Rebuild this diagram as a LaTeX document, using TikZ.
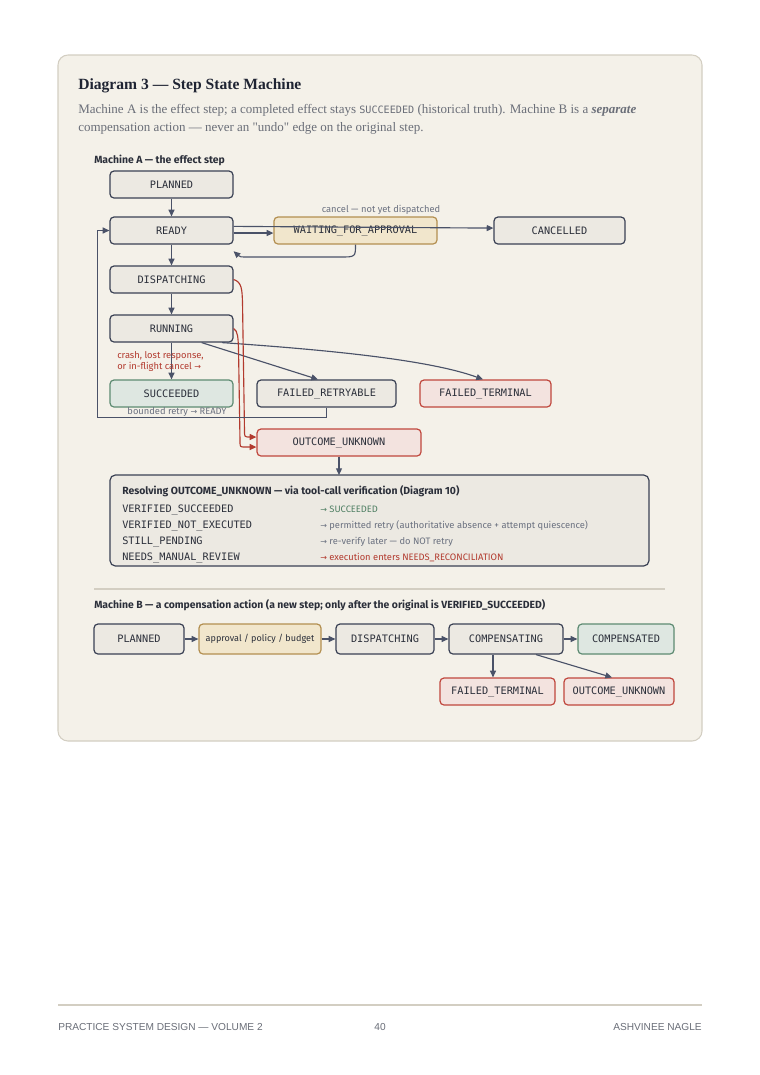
\documentclass[tikz,border=0pt]{standalone}
\usepackage{fontspec}
\setmainfont{Liberation Serif}
\newfontfamily\sff{Fira Sans}
\newfontfamily\mono{DejaVu Sans Mono}
\newfontfamily\djv{DejaVu Sans}
\newfontfamily\foot{Liberation Sans}
\usetikzlibrary{arrows.meta}
\definecolor{panel}{HTML}{F4F1E9}
\definecolor{panelb}{HTML}{D3CEC2}
\definecolor{nodef}{HTML}{ECE9E2}
\definecolor{nodeb}{HTML}{3A4154}
\definecolor{ink}{HTML}{2B2F3A}
\definecolor{edge}{HTML}{4A5268}
\definecolor{redl}{HTML}{B23A2E}
\definecolor{redb}{HTML}{C0473D}
\definecolor{redf}{HTML}{F3E3DF}
\definecolor{yelf}{HTML}{F1E6CC}
\definecolor{yelb}{HTML}{B38F50}
\definecolor{grnf}{HTML}{DEE7E1}
\definecolor{grnb}{HTML}{5D8B72}
\definecolor{grnt}{HTML}{4F7F63}
\definecolor{graytxt}{HTML}{6B7180}
\definecolor{subtxt}{HTML}{6A6E78}
\definecolor{titletxt}{HTML}{1F2433}
\newcommand{\ar}{{\djv\fontsize{6}{7}\selectfont →}}
\begin{document}
\begin{tikzpicture}[x=0.75pt,y=-0.75pt,
  st/.style={draw=nodeb, fill=nodef, rounded corners=3pt, line width=0.9pt,
    font=\mono\fontsize{7.7}{9}\selectfont, text=ink, inner sep=0pt,
    minimum height=20.25pt},
  wx/.style={minimum width=#1*0.75pt},
  hy/.style={minimum height=#1*0.75pt},
  yel/.style={fill=yelf, draw=yelb},
  grn/.style={fill=grnf, draw=grnb},
  rd/.style={fill=redf, draw=redb},
  ed/.style={draw=edge, line width=0.85pt, -{Triangle[length=5pt,width=4.5pt]}},
  red/.style={draw=redl, line width=0.85pt, -{Triangle[length=5pt,width=4.5pt]}},
  lbl/.style={font=\sff\fontsize{7}{8.5}\selectfont, text=graytxt, inner sep=0pt},
  hdr/.style={font=\sff\bfseries\fontsize{7.8}{9}\selectfont, text=ink, inner sep=0pt, anchor=west},
  mrow/.style={font=\mono\fontsize{7.7}{9}\selectfont, text=ink, inner sep=0pt, anchor=west},
  srow/.style={font=\sff\fontsize{7}{8}\selectfont, inner sep=0pt, anchor=west},
  ft/.style={font=\foot\fontsize{7.6}{9}\selectfont, text=subtxt, inner sep=0pt}
]
\useasboundingbox (0,0) rectangle (760,1075);
\fill[white] (0,0) rectangle (760,1075);
\draw[fill=panel, draw=panelb, line width=0.8pt, rounded corners=7.5pt] (58,55) rectangle (702,741);

% title
\node[anchor=base west, inner sep=0pt, text=titletxt, font=\bfseries\fontsize{11.7}{13}\selectfont] (title) at (78,89.5) {Diagram 3 — Step State Machine};
\node[anchor=base west, inner sep=0pt, text=subtxt, font=\fontsize{9.75}{12}\selectfont] (sub1) at (78,113) {Machine A is the effect step; a completed effect stays {\mono\fontsize{7.6}{9}\selectfont SUCCEEDED} (historical truth). Machine B is a \textbf{\textit{separate}}};
\node[anchor=base west, inner sep=0pt, text=subtxt, font=\fontsize{9.75}{12}\selectfont] (sub2) at (78,131) {compensation action — never an \textquotedbl undo\textquotedbl\ edge on the original step.};

\node[hdr] (ha) at (94,160.5) {Machine A — the effect step};

% Machine A nodes
\node[st,wx=123,hy=27] (pl) at (171.5,184.5) {PLANNED};
\node[st,wx=123,hy=27] (re) at (171.5,230.5) {READY};
\node[st,yel,wx=163,hy=27] (wa) at (355.5,230.5) {WAITING\_FOR\_APPROVAL};
\node[st,wx=131,hy=27] (ca) at (559.5,230.5) {CANCELLED};
\node[st,wx=123,hy=27] (di) at (171.5,279.5) {DISPATCHING};
\node[st,wx=123,hy=27] (ru) at (171.5,328.5) {RUNNING};
\node[st,grn,wx=123,hy=27] (su) at (171.5,393.5) {SUCCEEDED};
\node[st,wx=139,hy=27] (fr) at (326.5,393.5) {FAILED\_RETRYABLE};
\node[st,rd,wx=131,hy=27] (ftm) at (485.5,393.5) {FAILED\_TERMINAL};
\node[st,rd,wx=164,hy=27] (ou) at (339,442.5) {OUTCOME\_UNKNOWN};

% Machine A edges
\draw[ed] (pl) -- (re);
\draw[ed] ([yshift=-1.9pt]re.east) -- ([yshift=-1.9pt]wa.west);
\draw[ed] ([yshift=3.1pt]re.east) -- ([yshift=1.8pt]ca.west);
\node[lbl] (cl) at (381,210) {cancel — not yet dispatched};
\draw[ed] (wa.south) .. controls (355.5,257) .. (340,257) -- (250,257) .. controls (240,257) .. ([yshift=-5pt]re.south east);
\draw[ed] (re) -- (di);
\draw[ed] (di) -- (ru);
\draw[ed] (ru) -- (su);
\draw[ed] ([xshift=22.6pt]ru.south) -- ([xshift=-6.4pt]fr.north);
\draw[ed] ([xshift=37.9pt]ru.south) .. controls (330,350) and (430,360) .. ([xshift=-1.9pt]ftm.north);
\draw[red] (di.east) .. controls (242,282) and (242,290) .. (242.5,302) -- (244.5,431) .. controls (244.5,437) .. (250,437) -- ([yshift=4.1pt]ou.west);
\draw[red] (ru.east) .. controls (238,331) and (238,338) .. (238.5,348) -- (240,441) .. controls (240,447) .. (245,447) -- ([yshift=-3.4pt]ou.west);
\draw[ed, line width=0.75pt] (fr.south) |- (97,417) |- (re.west);
\node[lbl] (br) at (177,412) {bounded retry \ar\ READY};
\node[lbl, text=redl, anchor=north west, align=left, font=\sff\fontsize{7}{8.3}\selectfont] (cr) at (117,351) {crash, lost response,\\or in-flight cancel \ar};

% resolve box
\draw[ed] (ou) -- (339,475);
\node[st, wx=539, hy=91, rounded corners=4pt] (res) at (379.5,520.5) {};
\node[hdr] (rt) at (122,491) {Resolving OUTCOME\_UNKNOWN — via tool-call verification (Diagram 10)};
\node[mrow] (r1) at (122,509.5) {VERIFIED\_SUCCEEDED};
\node[mrow] (r2) at (122,525.5) {VERIFIED\_NOT\_EXECUTED};
\node[mrow] (r3) at (122,541.5) {STILL\_PENDING};
\node[mrow] (r4) at (122,557.5) {NEEDS\_MANUAL\_REVIEW};
\node[srow, text=grnt] (s1) at (320,509.5) {\ar\ SUCCEEDED};
\node[srow, text=graytxt] (s2) at (320,525.5) {\ar\ permitted retry (authoritative absence + attempt quiescence)};
\node[srow, text=graytxt] (s3) at (320,541.5) {\ar\ re-verify later — do NOT retry};
\node[srow, text=redl] (s4) at (320,557.5) {\ar\ execution enters NEEDS\_RECONCILIATION};

% separator
\draw[panelb, line width=0.8pt] (94,589) -- (665,589);

% Machine B
\node[hdr] (hb) at (94,605.5) {Machine B — a compensation action (a new step; only after the original is VERIFIED\_SUCCEEDED)};
\node[st,wx=90,hy=30] (bpl) at (139,639) {PLANNED};
\node[st,yel,wx=122,hy=30,font=\sff\fontsize{6.8}{8}\selectfont] (bap) at (260,639) {approval / policy / budget};
\node[st,wx=98,hy=30] (bdi) at (385,639) {DISPATCHING};
\node[st,wx=114,hy=30] (bco) at (506,639) {COMPENSATING};
\node[st,grn,wx=96,hy=30] (bcd) at (626,639) {COMPENSATED};
\node[st,rd,wx=115,hy=27] (bft) at (497.5,691.5) {FAILED\_TERMINAL};
\node[st,rd,wx=110,hy=27] (bou) at (619,691.5) {OUTCOME\_UNKNOWN};
\draw[ed] (bpl) -- (bap);
\draw[ed] (bap) -- (bdi);
\draw[ed] (bdi) -- (bco);
\draw[ed] (bco) -- (bcd);
\draw[ed] ([xshift=-9.75pt]bco.south) -- ([xshift=-9.75pt]bco.south |- bft.north);
\draw[ed] ([xshift=22.5pt]bco.south) -- ([xshift=-5.25pt]bou.north);

% footer
\draw[panelb, line width=0.8pt] (58,1005) -- (702,1005);
\node[ft, anchor=west] (f1) at (58,1027) {PRACTICE SYSTEM DESIGN — VOLUME 2};
\node[ft] (f2) at (380,1027) {40};
\node[ft, anchor=east] (f3) at (702,1027) {ASHVINEE NAGLE};
\end{tikzpicture}
\end{document}
